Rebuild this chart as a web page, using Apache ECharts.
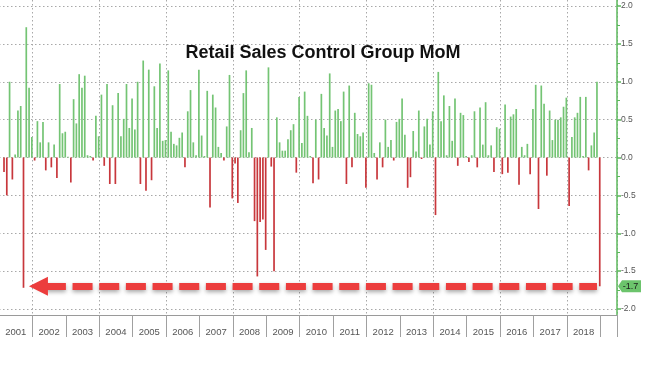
<!DOCTYPE html>
<html><head><meta charset="utf-8">
<script src="https://cdn.jsdelivr.net/npm/echarts@6/dist/echarts.min.js"></script>
<style>html,body{margin:0;padding:0;background:#fff}#c{width:646px;height:365px}</style>
</head><body><div id="c"></div>
<script>
// ---- data (monthly % change) ----
const titleText = 'Retail Sales Control Group MoM';
const years = ['2001','2002','2003','2004','2005','2006','2007','2008','2009','2010','2011','2012','2013','2014','2015','2016','2017','2018'];
const v2001 = [0, -0.19, -0.5, 1.0, -0.29, 0.04, 0.62, 0.68, -1.72, 1.72, 0.92, 0.27];
const v2002 = [-0.04, 0.48, 0.2, 0.47, -0.17, 0.2, -0.13, 0.17, -0.27, 0.97, 0.32, 0.34];
const v2003 = [0.01, -0.33, 0.77, 0.45, 1.1, 0.92, 1.08, 0.03, 0.02, -0.04, 0.55, 0.28];
const v2004 = [0.83, -0.11, 0.97, -0.35, 0.69, -0.35, 0.85, 0.28, 0.51, 0.97, 0.39, 0.78];
const v2005 = [0.37, 1.0, -0.35, 1.28, -0.44, 1.16, -0.3, 0.94, 0.39, 1.24, 0.22, 0.23];
const v2006 = [1.15, 0.34, 0.18, 0.16, 0.26, 0.33, -0.13, 0.61, 0.89, 0.2, 0.03, 1.16];
const v2007 = [0.29, 0.02, 0.88, -0.66, 0.83, 0.66, 0.14, 0.06, -0.04, 0.41, 1.09, -0.54];
const v2008 = [-0.08, -0.6, 0.36, 0.85, 1.15, 0.07, 0.39, -0.84, -1.57, -0.85, -0.82, -1.22];
const v2009 = [1.19, -0.12, -1.5, 0.53, 0.2, 0.09, 0.09, 0.24, 0.36, 0.44, -0.2, 0.8];
const v2010 = [0.19, 0.87, 0.55, 0.02, -0.34, 0.5, -0.29, 0.84, 0.39, 0.29, 1.11, 0.14];
const v2011 = [0.62, 0.64, 0.48, 0.87, -0.35, 0.95, -0.13, 0.59, 0.31, 0.28, 0.33, -0.4];
const v2012 = [0.98, 0.96, 0.06, -0.29, 0.2, -0.13, 0.5, 0.14, 0.23, -0.04, 0.47, 0.51];
const v2013 = [0.78, 0.3, -0.4, -0.26, 0.35, 0.08, 0.62, -0.02, 0.41, 0.51, 0.17, 0.61];
const v2014 = [-0.76, 1.13, 0.48, 0.82, 0.03, 0.68, 0.22, 0.78, -0.11, 0.59, 0.56, 0.02];
const v2015 = [-0.06, 0.03, 0.61, -0.13, 0.66, 0.17, 0.73, 0.03, 0.16, -0.19, 0.4, 0.38];
const v2016 = [-0.22, 0.7, -0.2, 0.54, 0.57, 0.64, -0.36, 0.14, 0.03, 0.18, -0.22, 0.64];
const v2017 = [0.96, -0.68, 0.95, 0.71, -0.24, 0.62, 0.23, 0.5, 0.5, 0.53, 0.67, 0.79];
const v2018 = [-0.64, 0.27, 0.53, 0.59, 0.8, 0.02, 0.8, -0.17, 0.16, 0.33, 1.0, -1.7];
const yMin = -2, yMax = 2, yStep = 0.5;
// annotation: arrow from 2001 low towards latest print
const arrowFrom = 2002.18, arrowTo = 2018.90;

// ---- build ----
const yearly = [v2001,v2002,v2003,v2004,v2005,v2006,v2007,v2008,v2009,v2010,v2011,v2012,v2013,v2014,v2015,v2016,v2017,v2018];
const startYear = +years[0];
const endYear = +years[years.length - 1] + 1;
const xMax = endYear + 0.5;
const monthPos = 0.8; // bars plotted near month end
const points = [];
yearly.forEach((arr, yi) => arr.forEach((v, m) => points.push([startYear + yi + (m + monthPos) / 12, v])));
const lastValue = points[points.length - 1][1];
const GREEN = '#74c474', RED = '#c8373c', ARROW = '#ec3d3d', AXISG = '#5cb85c';

// layout: main plot spans px -1 .. 617 for startYear .. xMax
const W = 646, plotLeft = -1, plotRight = 617;
const pxPerYear = (plotRight - plotLeft) / (xMax - startYear);
const gridStartYear = startYear - 1; // even-year guide grid starts one year earlier
const guideLeft = plotRight - (xMax - gridStartYear) * pxPerYear;

const chart = echarts.init(document.getElementById('c'), null, {renderer: 'canvas'});
chart.setOption({
  animation: false,
  backgroundColor: '#fff',
  textStyle: {fontFamily: 'Liberation Sans, Arial, sans-serif'},
  title: {text: titleText, left: 'center', top: 39,
    textStyle: {fontSize: 18, fontWeight: 'bold', color: '#111', fontFamily: 'Liberation Sans, Arial, sans-serif'}},
  grid: [
    {left: plotLeft, right: W - plotRight, top: 6, bottom: 56, containLabel: false, outerBoundsMode: 'none'},
    {left: guideLeft, right: W - plotRight, top: 0, bottom: 50, containLabel: false, outerBoundsMode: 'none'}
  ],
  xAxis: [
    {type: 'value', gridIndex: 0, min: startYear, max: xMax, interval: 1, position: 'bottom', offset: 6,
      axisLine: {show: true, onZero: false, lineStyle: {color: '#9a9a9a', width: 1}},
      axisTick: {show: true, inside: false, length: 22, lineStyle: {color: '#a0a0a0', width: 1}},
      axisLabel: {show: false}, splitLine: {show: false}},
    {type: 'value', gridIndex: 0, min: startYear, max: xMax, interval: 0.5, position: 'bottom', offset: 6,
      axisLine: {show: false}, axisTick: {show: false}, splitLine: {show: false},
      axisLabel: {show: true, margin: 12, color: '#555', fontSize: 9.5,
        formatter: v => { const f = v - Math.floor(v); return Math.abs(f - 0.5) < 1e-6 ? (years[Math.floor(v) - startYear] || '') : ''; }}},
    {type: 'value', gridIndex: 1, min: gridStartYear, max: xMax, interval: 2, position: 'bottom',
      axisLine: {show: false}, axisTick: {show: false}, axisLabel: {show: false},
      splitLine: {show: true, lineStyle: {type: [1.5, 2.5], color: '#a8a8a8', width: 1}}}
  ],
  yAxis: [
    {type: 'value', gridIndex: 0, position: 'right', min: yMin, max: yMax, interval: yStep,
      axisLine: {show: false},
      axisTick: {show: true, length: 4, lineStyle: {color: AXISG, width: 1.5}},
      minorTick: {show: true, splitNumber: 2, length: 3, lineStyle: {color: AXISG, width: 1}},
      axisLabel: {color: '#555', fontSize: 8.5, margin: 4, formatter: v => v.toFixed(1)},
      splitLine: {show: true, lineStyle: {type: [1.5, 2.5], color: '#a8a8a8', width: 1}}},
    {type: 'value', gridIndex: 1, position: 'right', min: 0, max: 1,
      axisLine: {show: true, onZero: false, lineStyle: {color: AXISG, width: 1.5}},
      axisTick: {show: false}, axisLabel: {show: false}, splitLine: {show: false}}
  ],
  series: [{
    type: 'bar', xAxisIndex: 0, yAxisIndex: 0, barWidth: 1.7,
    data: points,
    itemStyle: {color: p => p.value[1] >= 0 ? GREEN : RED},
    markLine: {silent: true, symbol: ['none', 'none'], label: {show: false},
      data: [[
        {coord: [arrowFrom, lastValue], symbol: 'triangle', symbolSize: 19,
          lineStyle: {color: ARROW, width: 7, type: [20, 6.67], dashOffset: 19.2, cap: 'butt',
            shadowBlur: 4, shadowColor: 'rgba(0,0,0,0.35)', shadowOffsetY: 2}},
        {coord: [arrowTo, lastValue], symbol: 'none'}
      ]]},
    markPoint: {silent: true,
      data: [{coord: [xMax, lastValue], value: lastValue}],
      symbol: 'path://M0,5.5 L4,0 L23,0 L23,11 L4,11 Z', symbolSize: [23, 12], symbolOffset: [12.5, 0],
      itemStyle: {color: '#6cc46c'},
      label: {show: true, formatter: p => p.value.toFixed(1), color: '#1a1a1a', fontSize: 9, offset: [1, 0]}}
  }]
});
</script></body></html>
